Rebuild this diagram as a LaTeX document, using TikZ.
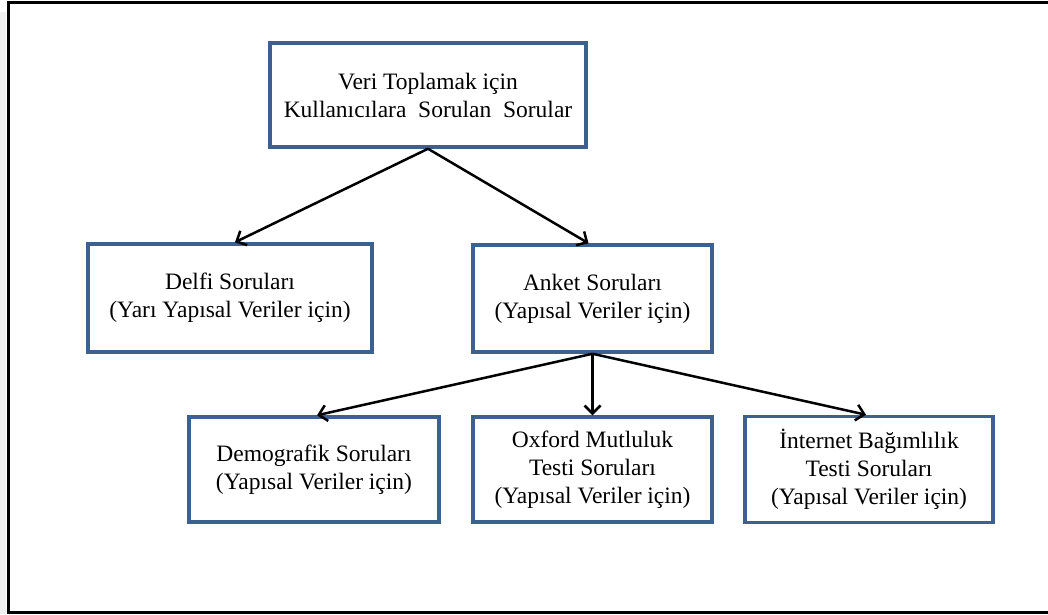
\documentclass[tikz,border=0pt]{standalone}
\usepackage{fontspec}
\setmainfont{Liberation Serif}
\usetikzlibrary{arrows.meta}
\definecolor{boxblue}{RGB}{60,96,143}
\tikzset{
  qbox/.style={draw=boxblue, line width=3.5pt, fill=white, inner sep=0pt,
    align=center, font=\fontsize{23.5}{28}\selectfont, text=black},
  conn/.style={draw=black, line width=2.5pt,
    -{Straight Barb[length=8pt,width=16pt,line width=2.5pt]}}
}
\begin{document}
\begin{tikzpicture}[x=1pt,y=-1pt]
\useasboundingbox (0,0) rectangle (1048,614);
% frame shadow and frame
\fill[gray!12] (0,12) rectangle (6,614);
\draw[black, line width=3pt] (1050,2) -- (8,2) -- (8,612) -- (1050,612);
% boxes
\node[qbox, minimum width=316pt, minimum height=104pt] (top) at (428,95)
  {Veri Toplamak için\\Kullanıcılara \ Sorulan \ Sorular};
\node[qbox, minimum width=284pt, minimum height=108pt] (delfi) at (230,298)
  {Delfi Soruları\\(Yarı Yapısal Veriler için)};
\node[qbox, minimum width=239pt, minimum height=107pt] (anket) at (592.5,298.5)
  {Anket Soruları\\(Yapısal Veriler için)};
\node[qbox, minimum width=250pt, minimum height=105pt] (demo) at (314,469.5)
  {Demografik Soruları\\(Yapısal Veriler için)};
\node[qbox, minimum width=239pt, minimum height=105pt] (oxford) at (592.5,469.5)
  {Oxford Mutluluk\\Testi Soruları\\(Yapısal Veriler için)};
\node[qbox, minimum width=248pt, minimum height=106pt] (inet) at (869,469.5)
  {İnternet Bağımlılık\\Testi Soruları\\(Yapısal Veriler için)};
% connectors
\draw[conn] (top.south) -- ([xshift=5pt]delfi.north);
\draw[conn] (top.south) -- ([xshift=-4pt]anket.north);
\draw[conn] (anket.south) -- ([xshift=3pt]demo.north);
\draw[conn] (anket.south) -- (oxford.north);
\draw[conn] (anket.south) -- ([xshift=-3pt]inet.north);
\end{tikzpicture}
\end{document}
